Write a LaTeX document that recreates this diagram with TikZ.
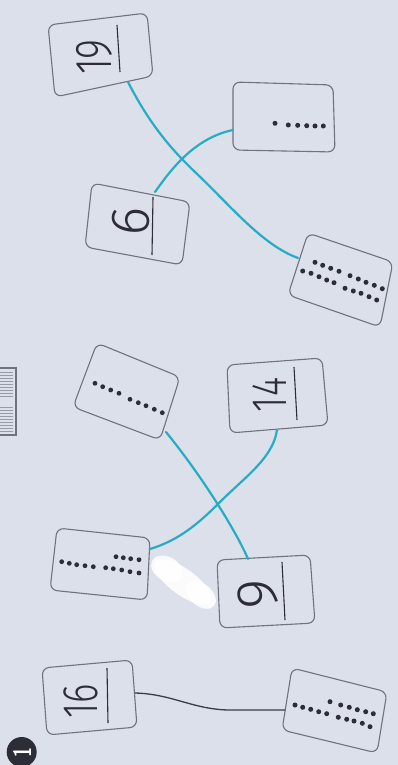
\documentclass[tikz,border=0pt]{standalone}
\usepackage{fontspec}
\usetikzlibrary{calc}
\IfFontExistsTF{Fira Sans Light}{%
  \newfontfamily\handfont{Fira Sans Light}[FakeStretch=0.74]%
  \newfontfamily\handwide{Fira Sans Light}}{%
  \newfontfamily\handfont{Fira Sans}[FakeStretch=0.74]%
  \newfontfamily\handwide{Fira Sans}}
\definecolor{paper}{RGB}{220,224,234}
\definecolor{cardgray}{RGB}{112,114,124}
\definecolor{ink}{RGB}{45,45,55}
\definecolor{marker}{RGB}{40,172,196}
\definecolor{pencil}{RGB}{60,60,70}
\definecolor{stripegray}{RGB}{150,154,166}
\newcommand{\drawcard}[4]{\draw[card] ($(#1)!0.5!(#2)$) -- (#2) -- (#3) -- (#4) -- (#1) -- cycle;}
\begin{document}
\begin{tikzpicture}[x=1pt,y=-1pt,
  card/.style={draw=cardgray, line width=1.1pt, rounded corners=7pt},
  wline/.style={draw=ink, line width=1.1pt},
  numtxt/.style={text=ink, inner sep=0pt},
  dot/.style={fill=ink},
  cyanline/.style={draw=marker, line width=2.2pt, line cap=round},
  pencilline/.style={draw=pencil, line width=1.3pt, line cap=round}]
\useasboundingbox (0,0) rectangle (398,765);
\fill[paper] (0,0) rectangle (398,765);

% correction fluid blob
\fill[white, opacity=0.9, rotate around={-36:(183,582)}] (183,582) ellipse (34 and 13);
\fill[white, opacity=0.85, rotate around={-30:(167,569)}] (167,569) ellipse (17 and 12);
\fill[white, opacity=0.85, rotate around={-40:(201,595)}] (201,595) ellipse (17 and 11);

% cards
\drawcard{48,25}{147,13}{153,76}{55,97}
\drawcard{233,82}{333,85}{335,152}{233,150}
\drawcard{92,183}{190,202}{182,265}{85,247}
\drawcard{308,233}{393,262}{380,327}{288,295}
\drawcard{97,343}{180,377}{160,440}{73,407}
\drawcard{227,365}{322,358}{328,425}{230,433}
\drawcard{57,528}{150,538}{147,600}{50,590}
\drawcard{217,560}{310,555}{315,623}{220,628}
\drawcard{42,668}{132,660}{137,727}{47,735}
\drawcard{292,668}{387,692}{377,753}{282,730}

% writing lines on number cards
\draw[wline] (117,25) -- (120,72);
\draw[wline] (153,197) -- (152,255);
\draw[wline] (294,367) -- (297,420);
\draw[wline] (282,562) -- (285,620);
\draw[wline] (107,668) -- (108,723);

% numbers
\node[numtxt, rotate=90, font=\handfont\fontsize{52}{52}\selectfont] (n19) at (94,57) {19};
\node[numtxt, rotate=84, font=\handwide\fontsize{55}{55}\selectfont] (n6) at (131,221) {6};
\node[numtxt, rotate=90, font=\handfont\fontsize{50}{50}\selectfont] (n14) at (269.5,395) {14};
\node[numtxt, rotate=92, font=\handwide\fontsize{58}{58}\selectfont] (n9) at (258,594.5) {9};
\node[numtxt, rotate=90, font=\handfont\fontsize{50}{50}\selectfont] (n16) at (80.5,701) {16};

% dots: 6
\foreach \p in {(275,123.3),(288.3,125),(297.7,125.3),(306.7,125.7),(315,126),(323.3,126)}
  \fill[dot] \p circle (2.5);
% dots: 19
\foreach \p in {(315,262.3),(322.7,265.3),(330.7,268.3),(339,271.3),
  (302.7,271),(311,273.3),(319,276.7),(326.7,280),(334,282.7),
  (350,275.7),(358.3,279),(366,282.3),(374.3,285.3),(382.3,288.7),
  (345,288.3),(353.3,291),(361,293.3),(369,296.7),(376.7,300)}
  \fill[dot] \p circle (2.5);
% dots: 9
\foreach \p in {(95,383.3),(102.7,386.7),(110.7,390),(119,393.3),
  (130,399.3),(138.3,402.7),(146,405.7),(154.3,409.3),(162.3,412.7)}
  \fill[dot] \p circle (2.4);
% dots: 14
\foreach \p in {(116,556.7),(123.3,557.7),(130.7,558.7),(139,559.7),
  (61.7,561.7),(69.3,563.3),(76.7,564.7),(85,565.7),(93.3,566.7),
  (105.7,567.7),(113.3,568.7),(121.7,570),(130,571.7),(139,573)}
  \fill[dot] \p circle (2.4);
% dots: 16
\foreach \p in {(295,705),(302.7,707.3),(310.7,709.3),(318.7,711.7),(326.7,713.7),
  (330,701.7),
  (340.7,705),(349.3,707.3),(357.3,709.7),(365.7,711.7),(373.3,713.7),
  (338.3,717.3),(346.7,719.3),(354,721),(362.3,723.3),(370,726.7)}
  \fill[dot] \p circle (2.5);

% connector end points
\coordinate (c19B) at (128,82);
\coordinate (d19L) at (298,258);
\coordinate (c6T) at (155,192);
\coordinate (d6L) at (233,130);
\coordinate (d9B) at (166,432);
\coordinate (c9T) at (248,559);
\coordinate (d14R) at (150,549);
\coordinate (c14B) at (277,430);
\coordinate (c16R) at (135,693);
\coordinate (d16L) at (285,710);

% connectors
\draw[pencilline] (c16R) .. controls (172,694) and (192,709) .. (228,710) -- (d16L);
\draw[cyanline] (d14R) .. controls (180,540) and (200,522) .. (220,502)
  .. controls (245,477) and (273,458) .. (c14B);
\draw[cyanline] (c9T) .. controls (238,535) and (205,480) .. (d9B);
\draw[cyanline] (c19B) .. controls (150,125) and (172,150) .. (195,172)
  .. controls (230,205) and (262,245) .. (d19L);
\draw[cyanline] (c6T) .. controls (172,168) and (195,138) .. (d6L);

% exercise badge
\fill[ink] (21.7,752) circle (15);
\node[text=white, inner sep=0pt, rotate=90] (badge) at (22,752) {\resizebox{10pt}{18pt}{\sffamily\bfseries 1}};

% small icon at left edge
\draw[cardgray, line width=1.1pt] (-2,368) rectangle (16,435);
\foreach \yy in {372,375,...,396} \draw[stripegray, line width=0.8pt] (0,\yy) -- (13,\yy);
\foreach \yy in {407,410,...,431} \draw[stripegray, line width=0.8pt] (0,\yy) -- (13,\yy);
\end{tikzpicture}
\end{document}
